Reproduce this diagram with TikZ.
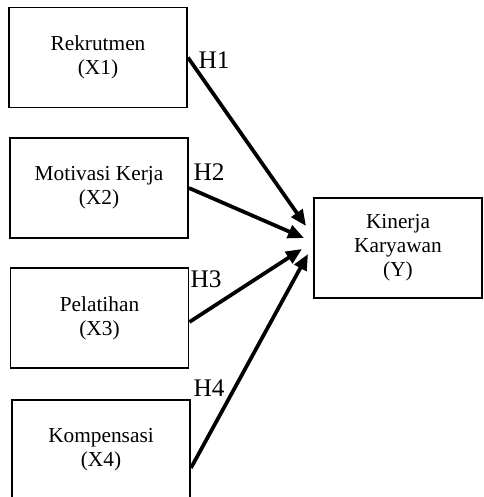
\documentclass[tikz,border=0pt]{standalone}
\usepackage{fontspec}
\setmainfont{Liberation Serif}
\usetikzlibrary{arrows.meta}

\begin{document}
\begin{tikzpicture}[x=0.75pt, y=-0.75pt,
 var/.style={draw, line width=1.4pt, minimum width=133.5pt, minimum height=75pt,
  align=center, font=\fontsize{16}{18}\selectfont},
 hyp/.style={font=\fontsize{19}{21}\selectfont, inner sep=0pt},
 path/.style={line width=2.8pt, -{Triangle[length=12pt, width=10pt]}}]
 \clip (0,0) rectangle (483,497);
 % variabel
 \node[var] (X1) at (98,57.5) {Rekrutmen\\(X1)};
 \node[var] (X2) at (99,188) {Motivasi Kerja\\(X2)};
 \node[var] (X3) at (99.5,318) {Pelatihan\\(X3)};
 \node[var] (X4) at (101,450) {Kompensasi\\(X4)};
 \node[var, minimum width=126pt] (Y) at (398,248) {Kinerja\\Karyawan\\(Y)};
 % ujung panah
 \coordinate (t1) at (306,226);
 \coordinate (t2) at (304,238);
 \coordinate (t3) at (302,249);
 \coordinate (t4) at (308,254);
 \draw[path] (X1.east) -- (t1);
 \draw[path] (X2.east) -- (t2);
 \draw[path] ([yshift=-3pt]X3.east) -- (t3);
 \draw[path] ([yshift=-13.5pt]X4.east) -- (t4);
 % hipotesis
 \node[hyp] (H1) at (214,60) {H1};
 \node[hyp] (H2) at (209,172) {H2};
 \node[hyp] (H3) at (206,279) {H3};
 \node[hyp] (H4) at (209,388) {H4};
\end{tikzpicture}
\end{document}
